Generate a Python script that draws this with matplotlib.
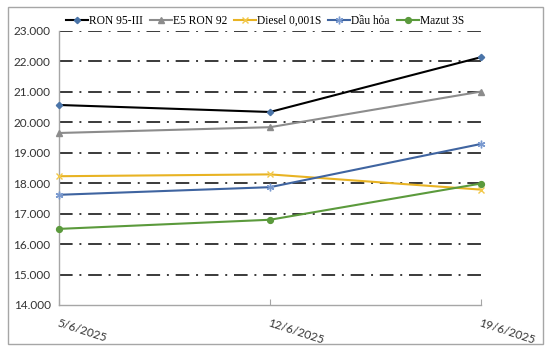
import matplotlib
matplotlib.use("Agg")
import matplotlib.pyplot as plt
from matplotlib.patches import Rectangle

dates = ["5/6/2025", "12/6/2025", "19/6/2025"]
ron95 = [20570, 20340, 22140]
e5ron92 = [19650, 19840, 21010]
diesel = [18230, 18290, 17790]
dau_hoa = [17620, 17870, 19290]
mazut = [16500, 16800, 17990]
yticks = [14000, 15000, 16000, 17000, 18000, 19000, 20000, 21000, 22000, 23000]
ytick_labels = ["14.000", "15.000", "16.000", "17.000", "18.000", "19.000", "20.000", "21.000", "22.000", "23.000"]

series = [
    ("RON 95-III", ron95, "#000000", "D", "#4a74a8", 3.2),
    ("E5 RON 92", e5ron92, "#8c8c8c", "^", "#8c8c8c", 4.2),
    ("Diesel 0,001S", diesel, "#e8b323", "x", "#f2c84b", 4.5),
    ("Dầu hỏa", dau_hoa, "#3f64a0", (6, 2, 0), "#7a9ad0", 5.5),
    ("Mazut 3S", mazut, "#5b9a3c", "o", "#5b9a3c", 4.2),
]

fig = plt.figure(figsize=(5.53, 3.48), dpi=100)
fig.patches.append(Rectangle((8 / 553, 1 - 344 / 348), (543 - 8) / 553, (344 - 7) / 348,
                             transform=fig.transFigure, fill=False, edgecolor="#a6a6a6",
                             linewidth=1.0))
ax = fig.add_axes([59 / 553, 1 - 305 / 348, (481 - 59) / 553, (305 - 31) / 348])

x = list(range(len(dates)))
for yv in yticks[1:]:
    ax.axhline(yv, color="#3a3a3a", linewidth=1.4,
               linestyle=(0, (7.0, 3.5, 1.0, 3.5)), zorder=1)

for name, vals, lc, mk, mc, ms in series:
    ax.plot(x, vals, color=lc, linewidth=1.5, marker=mk, markersize=ms,
            markerfacecolor=mc, markeredgecolor=mc, markeredgewidth=1.0,
            label=name, zorder=3, clip_on=False)

ax.set_xlim(0, 2)
ax.set_ylim(14000, 23000)
ax.set_yticks(yticks)
ax.set_yticklabels(ytick_labels, family="Lato", fontsize=8.5, color="#333333")
ax.tick_params(axis="y", length=0, pad=6)
ax.set_xticks(x)
ax.set_xticklabels(dates, family="Lato", fontsize=8.5, color="#333333",
                   rotation=-18, ha="left", va="top", rotation_mode="anchor")
ax.tick_params(axis="x", direction="in", length=4, color="#a6a6a6", pad=9)
for s in ["top", "right"]:
    ax.spines[s].set_visible(False)
for s in ["left", "bottom"]:
    ax.spines[s].set_color("#a6a6a6")
    ax.spines[s].set_linewidth(1.0)

fig.legend(loc="center", bbox_to_anchor=(265 / 553, 1 - 21 / 348), ncol=5,
           frameon=False, handlelength=1.9, columnspacing=0.6, handletextpad=0.1,
           prop={"family": "Liberation Serif", "size": 8.3})

fig.savefig("out.png", dpi=100)
